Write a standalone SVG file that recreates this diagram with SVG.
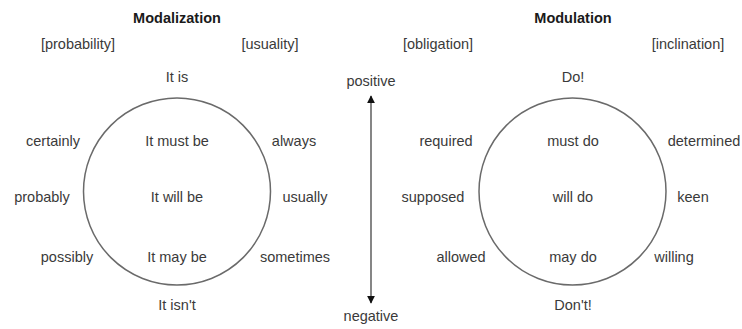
<svg xmlns="http://www.w3.org/2000/svg" width="742" height="329" viewBox="0 0 742 329">
<style>
text{font-family:"Liberation Sans",Arial,sans-serif;font-size:14.5px;fill:#3a3a3a;text-anchor:middle}
.h{font-weight:bold;fill:#1a1a1a}
.c{fill:none;stroke:#6a6a6a;stroke-width:1.5}
</style>
<defs>
<marker id="ah" viewBox="0 0 10 10" refX="9" refY="5" markerWidth="8" markerHeight="8" markerUnits="userSpaceOnUse" orient="auto-start-reverse">
<path d="M0,0 L10,5 L0,10 z" fill="#111"/>
</marker>
</defs>
<rect width="742" height="329" fill="#fff"/>
<g id="modalization">
<text class="h" x="177" y="23">Modalization</text>
<text x="78" y="49">[probability]</text>
<text x="270" y="49">[usuality]</text>
<circle class="c" cx="177" cy="191.5" r="93.5"/>
<text x="177" y="82">It is</text>
<text x="53" y="146">certainly</text>
<text x="177" y="146">It must be</text>
<text x="294" y="146">always</text>
<text x="42" y="202">probably</text>
<text x="177" y="202">It will be</text>
<text x="305" y="202">usually</text>
<text x="67" y="262">possibly</text>
<text x="177" y="262">It may be</text>
<text x="295" y="262">sometimes</text>
<text x="177" y="310">It isn't</text>
</g>
<g id="modulation">
<text class="h" x="573" y="23">Modulation</text>
<text x="438" y="49">[obligation]</text>
<text x="688" y="49">[inclination]</text>
<circle class="c" cx="572.5" cy="191.5" r="93.5"/>
<text x="573" y="82">Do!</text>
<text x="446" y="146">required</text>
<text x="573" y="146">must do</text>
<text x="704" y="146">determined</text>
<text x="433" y="202">supposed</text>
<text x="573" y="202">will do</text>
<text x="693" y="202">keen</text>
<text x="461" y="262">allowed</text>
<text x="573" y="262">may do</text>
<text x="674" y="262">willing</text>
<text x="573" y="310">Don't!</text>
</g>
<g id="scale">
<text x="371" y="86">positive</text>
<text x="371" y="321">negative</text>
</g>
<g id="connectors">
<line x1="371" y1="96" x2="371" y2="303" stroke="#444" stroke-width="1.3" marker-start="url(#ah)" marker-end="url(#ah)"/>
</g>
</svg>
